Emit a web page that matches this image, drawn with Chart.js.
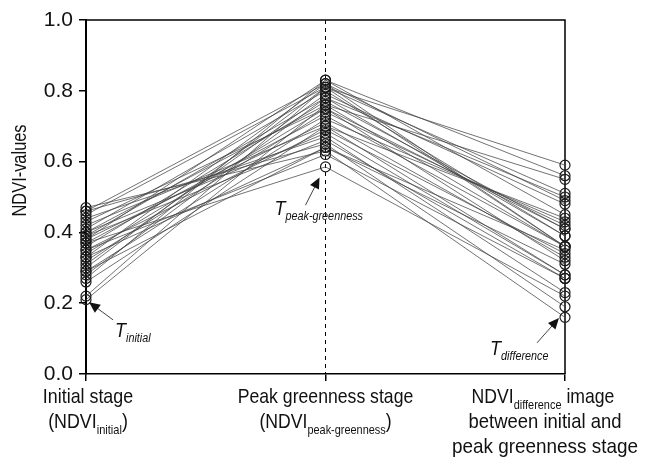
<!DOCTYPE html>
<html>
<head>
<meta charset="utf-8">
<script src="https://cdn.jsdelivr.net/npm/chart.js@4.4.1/dist/chart.umd.min.js"></script>
<style>
  html, body { margin: 0; background: #fff; }
</style>
</head>
<body>
<canvas id="chart" width="646" height="459"></canvas>
<script>
const stages = ['Initial stage', 'Peak greenness stage', 'NDVI difference'];

const initialNdvi = [0.22, 0.21, 0.27, 0.28, 0.30, 0.26, 0.29, 0.31, 0.33, 0.32, 0.34, 0.35, 0.36, 0.37, 0.38, 0.38,
                     0.39, 0.39, 0.40, 0.40, 0.41, 0.42, 0.43, 0.44, 0.45, 0.46, 0.47, 0.37, 0.29, 0.46, 0.35, 0.33];
const peakNdvi    = [0.81, 0.76, 0.83, 0.78, 0.81, 0.70, 0.72, 0.79, 0.82, 0.74, 0.75, 0.69, 0.77, 0.73, 0.83, 0.71,
                     0.78, 0.66, 0.76, 0.68, 0.80, 0.70, 0.75, 0.67, 0.81, 0.65, 0.63, 0.585, 0.64, 0.82, 0.62, 0.64];
const diffNdvi    = [0.59, 0.55, 0.56, 0.50, 0.51, 0.44, 0.43, 0.48, 0.49, 0.42, 0.41, 0.34, 0.41, 0.36, 0.45, 0.33,
                     0.39, 0.27, 0.36, 0.28, 0.39, 0.28, 0.32, 0.23, 0.36, 0.19, 0.16, 0.22, 0.35, 0.36, 0.27, 0.31];

const FONT = '"Liberation Sans", Arial, sans-serif';

const datasets = initialNdvi.map((v, i) => ({
    data: [v, peakNdvi[i], diffNdvi[i]],
    borderColor: '#444',
    borderWidth: 0.75,
    pointRadius: 5,
    pointBorderWidth: 1.2,
    pointBorderColor: '#1a1a1a',
    pointBackgroundColor: 'rgba(0,0,0,0)',
    fill: false,
    tension: 0
}));

// text pieces with optional subscripts, squeezed horizontally to mimic a condensed face
function drawRich(ctx, parts, cx, y, size, opts) {
    opts = opts || {};
    const style = opts.italic ? 'italic ' : '';
    const sx = opts.squeeze || 0.86;
    let total = 0;
    parts.forEach(p => {
        p.f = style + (p.sub ? Math.round(size * 0.62) : size) + 'px ' + FONT;
        ctx.font = p.f;
        p.w = ctx.measureText(p.t).width * sx;
        total += p.w;
    });
    let px = opts.left !== undefined ? opts.left : cx - total / 2;
    parts.forEach(p => {
        ctx.save();
        ctx.font = p.f;
        ctx.translate(px, y + (p.sub ? size * 0.27 : 0));
        ctx.scale(sx, 1);
        ctx.fillText(p.t, 0, 0);
        ctx.restore();
        px += p.w;
    });
}

function arrow(ctx, x1, y1, x2, y2) {
    const a = Math.atan2(y2 - y1, x2 - x1);
    ctx.beginPath();
    ctx.moveTo(x1, y1);
    ctx.lineTo(x2 - Math.cos(a) * 8, y2 - Math.sin(a) * 8);
    ctx.lineWidth = 0.8;
    ctx.stroke();
    ctx.beginPath();
    ctx.moveTo(x2, y2);
    ctx.lineTo(x2 - Math.cos(a) * 11 - Math.sin(a) * 5, y2 - Math.sin(a) * 11 + Math.cos(a) * 5);
    ctx.lineTo(x2 - Math.cos(a) * 11 + Math.sin(a) * 5, y2 - Math.sin(a) * 11 - Math.cos(a) * 5);
    ctx.closePath();
    ctx.fill();
}

const decor = {
    id: 'decor',
    beforeDatasetsDraw(chart) {
        const { ctx, chartArea: a, scales } = chart;
        const xm = scales.x.getPixelForValue(1);
        ctx.save();
        ctx.strokeStyle = '#000';
        ctx.lineWidth = 1;
        ctx.setLineDash([4, 4]);
        ctx.beginPath();
        ctx.moveTo(xm, a.top);
        ctx.lineTo(xm, a.bottom);
        ctx.stroke();
        ctx.setLineDash([]);
        ctx.lineWidth = 1.5;
        ctx.beginPath();
        ctx.moveTo(a.left, a.top);
        ctx.lineTo(a.right, a.top);
        ctx.lineTo(a.right, a.bottom);
        ctx.stroke();
        ctx.restore();
    },
    afterDraw(chart) {
        const { ctx, scales } = chart;
        const xs = scales.x, ys = scales.y;
        const x0 = xs.getPixelForValue(0), x1 = xs.getPixelForValue(1), x2 = xs.getPixelForValue(2);
        const base = ys.bottom;
        ctx.save();
        ctx.fillStyle = '#111';
        ctx.strokeStyle = '#111';
        ctx.textBaseline = 'alphabetic';
        const sz = 21;
        drawRich(ctx, [{ t: 'Initial stage' }], x0 + 2, base + 29, sz, { squeeze: 0.85 });
        drawRich(ctx, [{ t: '(NDVI' }, { t: 'initial', sub: true }, { t: ')' }], x0 + 2, base + 54, sz, { squeeze: 0.85 });
        drawRich(ctx, [{ t: 'Peak greenness stage' }], x1, base + 29, sz, { squeeze: 0.84 });
        drawRich(ctx, [{ t: '(NDVI' }, { t: 'peak-greenness', sub: true }, { t: ')' }], x1, base + 54, sz, { squeeze: 0.84 });
        drawRich(ctx, [{ t: 'NDVI' }, { t: 'difference', sub: true }, { t: ' image' }], x2 - 22, base + 29, sz, { squeeze: 0.84 });
        drawRich(ctx, [{ t: 'between initial and' }], x2 - 20, base + 54, sz, { squeeze: 0.88 });
        drawRich(ctx, [{ t: 'peak greenness stage' }], x2 - 20, base + 79, sz, { squeeze: 0.9 });

        // y axis title
        ctx.save();
        ctx.translate(26, ys.getPixelForValue(0.575));
        ctx.rotate(-Math.PI / 2);
        drawRich(ctx, [{ t: 'NDVI-values' }], 0, 0, 20, { squeeze: 0.82 });
        ctx.restore();

        // annotations
        arrow(ctx, x0 + 27, ys.getPixelForValue(0.153), x0 + 3, ys.getPixelForValue(0.203));
        drawRich(ctx, [{ t: 'T' }, { t: 'initial', sub: true }], 0, ys.getPixelForValue(0.105), 20, { italic: true, squeeze: 0.9, left: x0 + 29 });
        arrow(ctx, x1 - 20, ys.getPixelForValue(0.477), x1 - 6, ys.getPixelForValue(0.555));
        drawRich(ctx, [{ t: 'T' }, { t: 'peak-greenness', sub: true }], 0, ys.getPixelForValue(0.449), 20, { italic: true, squeeze: 0.9, left: x1 - 51 });
        arrow(ctx, x2 - 28, ys.getPixelForValue(0.088), x2 - 6, ys.getPixelForValue(0.158));
        drawRich(ctx, [{ t: 'T' }, { t: 'difference', sub: true }], 0, ys.getPixelForValue(0.054), 20, { italic: true, squeeze: 0.9, left: x2 - 75 });
        ctx.restore();
    }
};

new Chart(document.getElementById('chart'), {
    type: 'line',
    data: { labels: stages, datasets },
    options: {
        responsive: false,
        animation: false,
        layout: { padding: { top: 20, right: 81, left: 0, bottom: 0 } },
        plugins: { legend: { display: false }, tooltip: { enabled: false } },
        scales: {
            x: {
                offset: false,
                grid: { drawOnChartArea: false, tickLength: 7, color: '#000', lineWidth: 1.5 },
                border: { color: '#000', width: 1.5 },
                ticks: { callback: () => '', autoSkip: false },
                afterFit: s => { s.height = 85; }
            },
            y: {
                min: 0,
                max: 1,
                ticks: {
                    stepSize: 0.2,
                    callback: v => v.toFixed(1),
                    font: { family: FONT, size: 21 },
                    color: '#111',
                    padding: 6
                },
                grid: { drawOnChartArea: false, tickLength: 7, color: '#000', lineWidth: 1.5 },
                border: { color: '#000', width: 2 },
                afterFit: s => { s.width = 86; }
            }
        }
    },
    plugins: [decor]
});
</script>
</body>
</html>
